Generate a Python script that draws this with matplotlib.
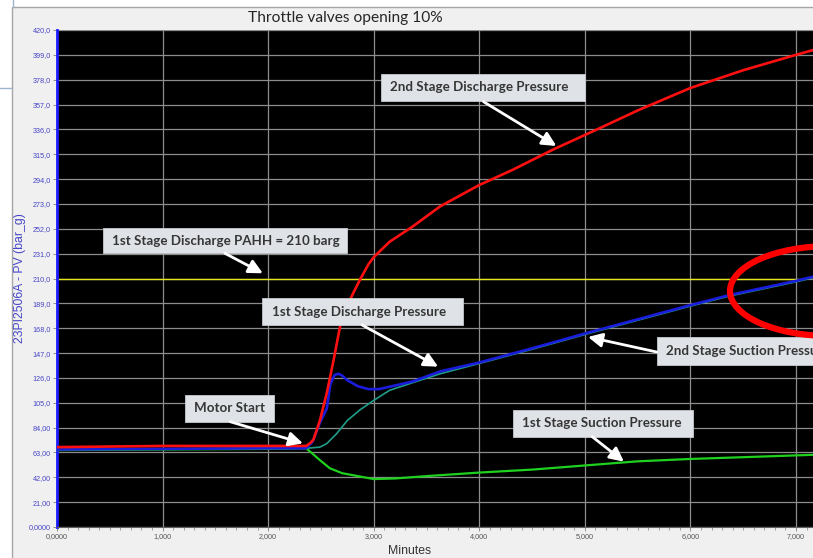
import matplotlib

matplotlib.use("Agg")
import matplotlib.pyplot as plt
from matplotlib.lines import Line2D
from matplotlib.patches import Ellipse, Rectangle
from matplotlib.ticker import MultipleLocator

# Trend data: time in minutes, pressure in bar_g
t_red = [0.0, 1.0, 2.0, 2.36, 2.40, 2.43, 2.49, 2.555, 2.62, 2.68, 2.73, 2.78,
         2.87, 2.95, 3.0, 3.15, 3.37, 3.63, 4.0, 4.32, 4.7, 5.14, 5.5, 6.0,
         6.5, 7.0, 7.16]
p_red = [67.5, 68.5, 68.5, 68.5, 71.0, 74.0, 90.0, 113.0, 141.0, 169.0, 183.0,
         193.0, 209.0, 222.0, 228.0, 241.0, 254.0, 271.0, 289.0, 302.0, 319.0,
         337.0, 352.0, 371.0, 386.0, 399.0, 403.0]

t_blue = [0.0, 1.0, 2.0, 2.36, 2.42, 2.49, 2.555, 2.59, 2.63, 2.664, 2.70,
          2.75, 2.85, 2.95, 3.05, 3.15, 3.37, 3.63, 4.0, 4.5, 5.0, 5.52, 6.0,
          6.37, 7.0, 7.16]
p_blue = [65.5, 66.0, 66.5, 66.5, 72.0, 88.0, 100.0, 121.0, 128.5, 129.5,
          128.0, 124.0, 119.0, 116.5, 116.5, 118.5, 123.0, 131.5, 139.0, 151.0,
          163.5, 176.0, 187.5, 196.0, 208.0, 211.5]

t_teal = [0.0, 1.0, 2.0, 2.36, 2.49, 2.555, 2.65, 2.75, 2.87, 3.0, 3.15, 3.37,
          3.63, 4.0, 4.5, 5.0, 5.52, 6.0, 6.37, 7.0, 7.16]
p_teal = [65.5, 66.0, 66.5, 66.5, 67.5, 70.5, 79.0, 90.0, 99.0, 107.0, 115.5,
          122.0, 129.5, 138.2, 150.2, 162.7, 175.2, 186.7, 195.2, 207.2, 210.7]

t_green = [0.0, 1.0, 2.0, 2.36, 2.42, 2.49, 2.585, 2.7, 2.85, 3.0, 3.2, 3.5,
           4.0, 4.5, 5.0, 5.5, 6.0, 6.5, 7.16]
p_green = [65.0, 65.5, 66.0, 66.5, 62.0, 56.5, 49.6, 45.5, 43.0, 40.5, 41.0,
           43.0, 46.0, 48.5, 52.0, 55.5, 57.5, 59.0, 61.0]

t_pahh = [0.0, 7.02]
p_pahh = [210.0, 210.0]

y_ticks = [0, 21, 42, 63, 84, 105, 126, 147, 168, 189, 210, 231, 252, 273, 294,
           315, 336, 357, 378, 399, 420]
y_tick_labels = ["0,0000", "21,00", "42,00", "63,00", "84,00", "105,0", "126,0",
                 "147,0", "168,0", "189,0", "210,0", "231,0", "252,0", "273,0",
                 "294,0", "315,0", "336,0", "357,0", "378,0", "399,0", "420,0"]
x_ticks = [0, 1, 2, 3, 4, 5, 6, 7]
x_tick_labels = ["0,0000", "1,000", "2,000", "3,000", "4,000", "5,000", "6,000",
                 "7,000"]

# callout boxes: text, box extent (x0, x1, y0, y1), arrow tail, arrow head
callouts = [
    ("2nd Stage Discharge Pressure", (3.066, 5.001, 360.3, 382.8),
     (4.04, 359.4), (4.73, 322.0)),
    ("1st Stage Discharge PAHH = 210 barg", (0.433, 2.744, 231.3, 252.4),
     (1.59, 231.3), (1.95, 214.4)),
    ("1st Stage Discharge Pressure", (1.942, 3.846, 170.7, 193.5),
     (2.89, 170.7), (3.61, 135.5)),
    ("Motor Start", (1.212, 2.056, 89.0, 111.6),
     (1.64, 89.0), (2.33, 70.7)),
    ("1st Stage Suction Pressure", (4.317, 6.022, 76.3, 98.9),
     (5.07, 76.3), (5.37, 55.2)),
    ("2nd Stage Suction Pressure", (5.681, 7.60, 136.9, 160.3),
     (5.68, 147.9), (5.03, 160.6)),
]

fig = plt.figure(figsize=(8.13, 5.58), dpi=100)
fig.patch.set_facecolor("white")

# window frame around the trend
fig.add_artist(Rectangle((12 / 813, -0.02), 1.05, 1.02 - 7 / 558,
                         transform=fig.transFigure, facecolor="#f0f0f0",
                         edgecolor="#a6a6a6", lw=1.0, zorder=0))
fig.add_artist(Line2D([0, 12 / 813], [1 - 88 / 558] * 2, color="#9fb3cf",
                      lw=1.0, transform=fig.transFigure))
fig.add_artist(Line2D([13 / 813] * 2, [1, 1 - 7 / 558], color="#9fb3cf",
                      lw=1.0, transform=fig.transFigure))

fig.text(345 / 813, 1 - 18 / 558, "Throttle valves opening 10%",
         ha="center", va="center", fontsize=11.2, family="Lato",
         color="#262626")

ax = fig.add_axes([57 / 813, 31 / 558, 756 / 813, 497 / 558])
ax.set_facecolor("black")

ax.plot(t_pahh, p_pahh, color="#e6e619", lw=1.0, zorder=2)
ax.plot(t_green, p_green, color="#1fd01f", lw=1.6, zorder=3)
ax.plot(t_teal, p_teal, color="#1e9e8a", lw=1.2, zorder=3)
ax.plot(t_blue, p_blue, color="#1c1cdc", lw=1.9, zorder=4)
ax.plot(t_red, p_red, color="#ff1010", lw=1.9, zorder=5)

ax.set_xlim(0, 7.161)
ax.set_ylim(0, 420)
ax.set_yticks(y_ticks)
ax.set_yticklabels(y_tick_labels, fontsize=5.2, color="#4646c8",
                   family="Liberation Sans")
ax.set_xticks(x_ticks)
ax.set_xticklabels(x_tick_labels, fontsize=5.2, color="#555555",
                   family="Liberation Sans")
ax.xaxis.set_minor_locator(MultipleLocator(0.1))
ax.tick_params(axis="both", which="major", length=3, width=0.6,
               color="#808080", pad=1.5)
ax.tick_params(axis="x", which="minor", length=2, width=0.5, color="#808080")
ax.grid(True, which="major", color="#8c8c8c", lw=0.9)
ax.set_axisbelow(True)

for side in ("top", "right"):
    ax.spines[side].set_visible(False)
ax.spines["left"].set_color("#1a1aff")
ax.spines["left"].set_linewidth(2.0)
ax.spines["bottom"].set_color("#606060")
ax.spines["bottom"].set_linewidth(0.8)

ax.set_ylabel("23PI2506A - PV (bar_g)", fontsize=8.8, color="#4646c8",
              family="Liberation Sans")
ax.yaxis.set_label_coords(-0.041, 0.5)
ax.text(0.467, -0.048, "Minutes", transform=ax.transAxes, ha="center",
        va="center", fontsize=8.8, color="#333333", family="Liberation Sans")

for label, (x0, x1, y0, y1), tail, head in callouts:
    ax.add_patch(Rectangle((x0, y0), x1 - x0, y1 - y0, facecolor="#dfe2e7",
                           edgecolor="#c6cad0", lw=0.6, zorder=6))
    ax.text(x0 + 0.09, (y0 + y1) / 2, label, ha="left", va="center",
            fontsize=9.6, fontweight="bold", family="Lato", color="#363636",
            zorder=7)
    ax.annotate("", xy=head, xytext=tail,
                arrowprops=dict(arrowstyle="-|>,head_length=0.7,head_width=0.35",
                                color="white", lw=2.0, shrinkA=0, shrinkB=0,
                                mutation_scale=12),
                zorder=7)

# highlight where 1st stage discharge reaches the PAHH limit
ax.add_patch(Ellipse((7.322, 199.4), 1.894, 76.0, fill=False,
                     edgecolor="#ff0000", lw=4.5, clip_on=False, zorder=8))

fig.savefig("out.png", dpi=100, facecolor=fig.get_facecolor())
